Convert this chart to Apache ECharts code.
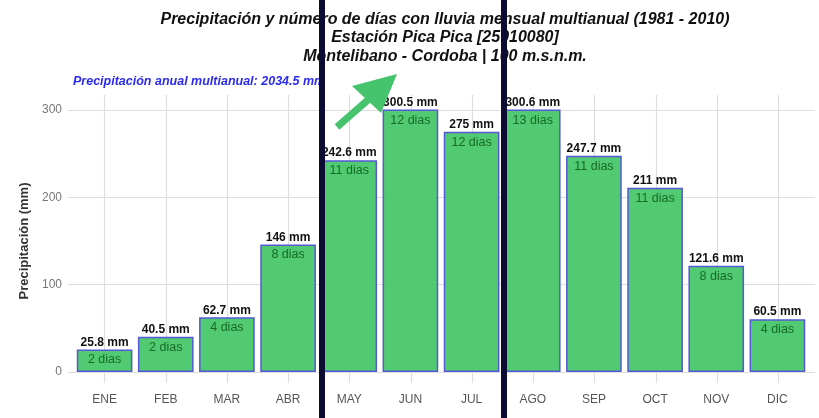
<!DOCTYPE html>
<html lang="es">
<head>
    <meta charset="UTF-8">
    <title>Precipitación Pica Pica</title>
    <script src="https://cdn.jsdelivr.net/npm/echarts@6/dist/echarts.min.js"></script>
</head>
<body style="margin:0;">
<div id="myChart" style="width: 819px;height: 418px;"></div>
<script>
    var meses = ['ENE', 'FEB', 'MAR', 'ABR', 'MAY', 'JUN', 'JUL', 'AGO', 'SEP', 'OCT', 'NOV', 'DIC'];
    var precipitacion = [25.8, 40.5, 62.7, 146, 242.6, 300.5, 275, 300.6, 247.7, 211, 121.6, 60.5];
    var diasLluvia = [2, 2, 4, 8, 11, 12, 12, 13, 11, 11, 8, 4];
    var yTicks = [0, 100, 200, 300];

    var fuente = '"Liberation Sans Narrow", "Arial Narrow", "Liberation Sans", Arial, sans-serif';
    var myChart = echarts.init(document.getElementById('myChart'));

    // panel completo (como ggplot, con expansion de 0.6 categorias a cada lado)
    var lineasV = meses.map(function (m, i) { return {xAxis: i + 0.6}; });
    var lineasH = yTicks.map(function (v) { return {yAxis: v}; });

    var option = {
        backgroundColor: '#fff',
        animation: false,
        title: [{
            text: 'Precipitación y número de días con lluvia mensual multianual (1981 - 2010)\nEstación Pica Pica [25010080]\nMontelibano - Cordoba | 100 m.s.n.m.',
            left: 440,
            textAlign: 'center',
            top: 5,
            textStyle: {
                fontFamily: fuente,
                fontSize: 16,
                fontWeight: 'bold',
                fontStyle: 'italic',
                color: '#111',
                lineHeight: 18.5,
                align: 'center'
            }
        }, {
            text: 'Precipitación anual multianual: 2034.5 mm',
            left: 68,
            top: 70,
            textStyle: {
                fontFamily: fuente,
                fontSize: 12.5,
                fontWeight: 'bold',
                fontStyle: 'italic',
                color: '#2b2bf0'
            }
        }],
        grid: [
            {left: 74, right: 11, top: 110, bottom: 46},
            {left: 68, right: 4, top: 95, bottom: 35}
        ],
        xAxis: [{
            type: 'category',
            gridIndex: 0,
            data: meses,
            axisLine: {show: false},
            axisTick: {show: false},
            axisLabel: {
                margin: 22,
                color: '#555',
                fontSize: 12,
                fontFamily: fuente
            }
        }, {
            type: 'value',
            gridIndex: 1,
            min: 0,
            max: 12.2,
            show: false
        }],
        yAxis: [{
            type: 'value',
            gridIndex: 0,
            min: 0,
            max: 300,
            interval: 100,
            name: 'Precipitación (mm)',
            nameLocation: 'middle',
            nameGap: 36,
            nameTextStyle: {
                fontFamily: fuente,
                fontSize: 13,
                fontWeight: 'bold',
                color: '#333'
            },
            axisLine: {show: false},
            axisTick: {show: false},
            axisLabel: {
                color: '#777',
                fontSize: 12,
                margin: 12,
                fontFamily: fuente
            },
            splitLine: {show: false}
        }, {
            type: 'value',
            gridIndex: 1,
            min: -12.6,
            max: 317.2,
            show: false
        }],
        series: [
            {
                // lineas de rejilla del panel
                type: 'line',
                xAxisIndex: 1,
                yAxisIndex: 1,
                data: [],
                z: 0,
                silent: true,
                markLine: {
                    silent: true,
                    z: 0,
                    symbol: 'none',
                    label: {show: false},
                    lineStyle: {color: '#dedede', width: 1.2, type: 'solid'},
                    data: lineasV.concat(lineasH)
                }
            },
            {
                type: 'bar',
                xAxisIndex: 0,
                yAxisIndex: 0,
                barWidth: '91%',
                z: 2,
                data: precipitacion,
                itemStyle: {
                    color: 'rgba(62,196,98,0.9)',
                    borderColor: '#5558d8',
                    borderWidth: 1.5
                },
                label: {
                    show: true,
                    position: 'top',
                    distance: 1,
                    formatter: function (p) { return p.value + ' mm'; },
                    fontFamily: fuente,
                    fontSize: 12,
                    fontWeight: 'bold',
                    color: '#111'
                }
            },
            {
                // dias con lluvia dentro de las barras
                type: 'bar',
                xAxisIndex: 0,
                yAxisIndex: 0,
                barWidth: '91%',
                barGap: '-100%',
                z: 3,
                data: precipitacion,
                itemStyle: {color: 'transparent'},
                label: {
                    show: true,
                    position: 'insideTop',
                    distance: 4,
                    formatter: function (p) { return diasLluvia[p.dataIndex] + ' dias'; },
                    fontFamily: fuente,
                    fontSize: 12.5,
                    color: '#176b26'
                }
            }
        ],
        graphic: [
            {type: 'rect', shape: {x: 319, y: 0, width: 6, height: 418}, style: {fill: '#0b0b33'}, z: 100},
            {type: 'rect', shape: {x: 501, y: 0, width: 6, height: 418}, style: {fill: '#0b0b33'}, z: 100},
            {type: 'line', shape: {x1: 337, y1: 127, x2: 385, y2: 85}, style: {stroke: '#45c46d', lineWidth: 7}, z: 100},
            {type: 'polygon', shape: {points: [[397, 74], [352, 86], [381, 113]]}, style: {fill: '#45c46d'}, z: 100}
        ]
    };

    myChart.setOption(option);
</script>
</body>
</html>
